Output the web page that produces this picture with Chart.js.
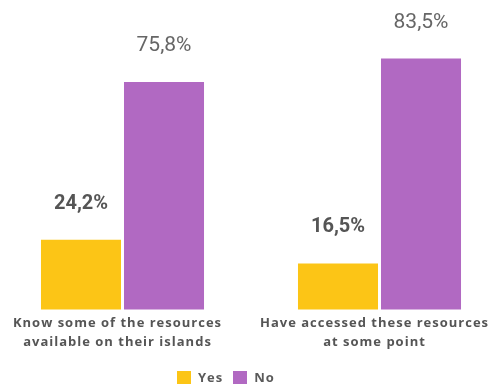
<!DOCTYPE html>
<html>
<head>
<meta charset="utf-8">
<script src="https://cdn.jsdelivr.net/npm/chart.js@4/dist/chart.umd.min.js"></script>
<style>
  html, body { margin: 0; padding: 0; background: #ffffff; overflow: hidden; width: 489px; height: 385px; }
  #wrap { position: absolute; left: -6px; top: 0; width: 514px; height: 385px; }
  #legend { position: absolute; left: 177px; top: 368px; display: flex; align-items: center;
            font-family: "Open Sans", sans-serif; font-weight: 700; font-size: 13px; letter-spacing: 1px; color: #5a5a5a; }
  #legend .item { display: flex; align-items: center; margin-right: 10px; }
  #legend .box { width: 14px; height: 13px; margin-right: 7px; }
</style>
</head>
<body>
<div id="wrap"><canvas id="chart"></canvas></div>
<div id="legend"></div>
<script>
// Survey results: share of respondents answering Yes / No
const categories = [
  ['Know some of the resources', 'available on their islands'],
  ['Have accessed these resources', 'at some point']
];
const seriesNames = ['Yes', 'No'];
const yesValues = [24.2, 16.5];
const noValues = [75.8, 83.5];
const seriesColors = ['#FCC516', '#B169C2'];

const formatPct = v => v.toFixed(1).replace('.', ',') + '%';

// Value labels above each bar, positioned from the bar elements
const valueLabels = {
  id: 'valueLabels',
  afterDatasetsDraw(chart) {
    const ctx = chart.ctx;
    chart.data.datasets.forEach((ds, di) => {
      const meta = chart.getDatasetMeta(di);
      meta.data.forEach((bar, i) => {
        ctx.save();
        ctx.letterSpacing = '0px';
        ctx.textAlign = 'center';
        ctx.textBaseline = 'middle';
        if (di === 0) {
          ctx.font = '700 20px Roboto';
          ctx.fillStyle = '#555555';
        } else {
          ctx.font = '400 21px Roboto';
          ctx.fillStyle = '#666666';
        }
        ctx.fillText(formatPct(ds.data[i]), bar.x, bar.y - 36);
        ctx.restore();
      });
    });
  }
};

// Wider tracking for the category captions
const tracking = {
  id: 'tracking',
  beforeInit(chart) { chart.ctx.letterSpacing = '1px'; },
  beforeDraw(chart) { chart.ctx.letterSpacing = '1px'; }
};

const chart = new Chart(document.getElementById('chart'), {
  type: 'bar',
  data: {
    labels: categories,
    datasets: [
      { label: seriesNames[0], data: yesValues, backgroundColor: seriesColors[0] },
      { label: seriesNames[1], data: noValues, backgroundColor: seriesColors[1] }
    ]
  },
  options: {
    responsive: true,
    maintainAspectRatio: false,
    animation: false,
    devicePixelRatio: 1,
    categoryPercentage: 0.646,
    barPercentage: 0.964,
    layout: { padding: { top: 8, bottom: 29, left: 0, right: 0 } },
    plugins: {
      legend: { display: false },
      tooltip: { enabled: false }
    },
    scales: {
      x: {
        grid: { display: false, drawTicks: false },
        border: { display: false },
        ticks: {
          autoSkip: false,
          maxRotation: 0,
          padding: 5,
          labelOffset: -5,
          color: '#555555',
          font: { family: '"Open Sans"', weight: '700', size: 13, lineHeight: 1.4 }
        }
      },
      y: { display: false, min: 1.4, max: 100 }
    }
  },
  plugins: [tracking, valueLabels]
});

// Legend below the chart
const legend = document.getElementById('legend');
seriesNames.forEach((name, i) => {
  const item = document.createElement('div');
  item.className = 'item';
  const box = document.createElement('div');
  box.className = 'box';
  box.style.background = seriesColors[i];
  const txt = document.createElement('span');
  txt.textContent = name;
  item.appendChild(box);
  item.appendChild(txt);
  legend.appendChild(item);
});
</script>
</body>
</html>
